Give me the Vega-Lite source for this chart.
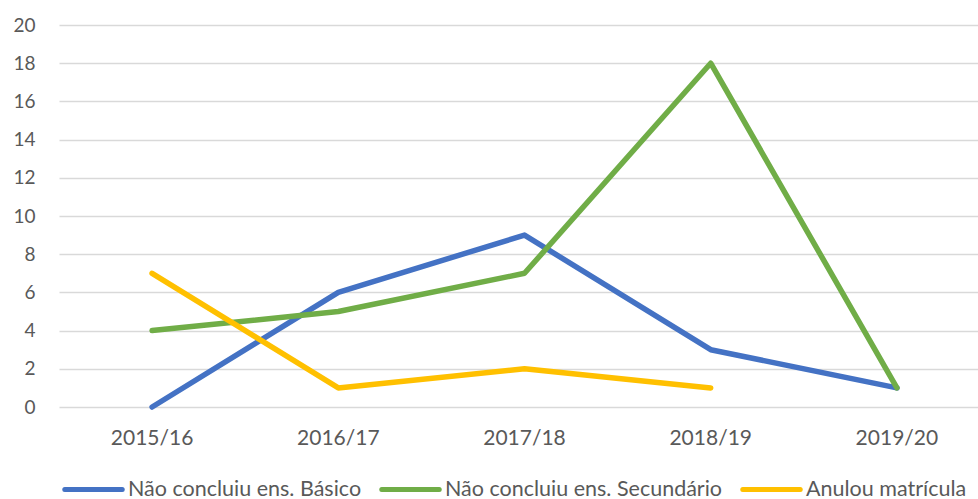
{
  "$schema": "https://vega.github.io/schema/vega-lite/v6.json",
  "autosize": "none",
  "width": 931,
  "height": 382,
  "padding": {"left": 59, "top": 25, "right": 0, "bottom": 92},
  "background": "white",
  "config": {
    "font": "Lato",
    "view": {"stroke": null}
  },
  "data": {
    "values": [
      {"ano": "2015/16", "serie": "Não concluiu ens. Básico", "valor": 0},
      {"ano": "2016/17", "serie": "Não concluiu ens. Básico", "valor": 6},
      {"ano": "2017/18", "serie": "Não concluiu ens. Básico", "valor": 9},
      {"ano": "2018/19", "serie": "Não concluiu ens. Básico", "valor": 3},
      {"ano": "2019/20", "serie": "Não concluiu ens. Básico", "valor": 1},
      {"ano": "2015/16", "serie": "Não concluiu ens. Secundário", "valor": 4},
      {"ano": "2016/17", "serie": "Não concluiu ens. Secundário", "valor": 5},
      {"ano": "2017/18", "serie": "Não concluiu ens. Secundário", "valor": 7},
      {"ano": "2018/19", "serie": "Não concluiu ens. Secundário", "valor": 18},
      {"ano": "2019/20", "serie": "Não concluiu ens. Secundário", "valor": 1},
      {"ano": "2015/16", "serie": "Anulou matrícula", "valor": 7},
      {"ano": "2016/17", "serie": "Anulou matrícula", "valor": 1},
      {"ano": "2017/18", "serie": "Anulou matrícula", "valor": 2},
      {"ano": "2018/19", "serie": "Anulou matrícula", "valor": 1}
    ]
  },
  "mark": {"type": "line", "strokeWidth": 5.5, "strokeCap": "round", "strokeJoin": "round"},
  "encoding": {
    "x": {
      "field": "ano", "type": "ordinal",
      "scale": {"type": "band", "paddingInner": 0, "paddingOuter": 0},
      "axis": {"title": null, "labelAngle": 0, "domain": false, "ticks": false, "grid": false,
               "labelFontSize": 21, "labelColor": "#595959", "labelPadding": 20}
    },
    "y": {
      "field": "valor", "type": "quantitative",
      "scale": {"domain": [0, 20], "nice": false},
      "axis": {"title": null, "values": [0,2,4,6,8,10,12,14,16,18,20], "domain": false, "ticks": false,
               "grid": true, "gridColor": "#D9D9D9", "gridWidth": 1.3,
               "labelFontSize": 19, "labelColor": "#595959", "labelPadding": 24}
    },
    "color": {
      "field": "serie", "type": "nominal",
      "scale": {
        "domain": ["Não concluiu ens. Básico", "Não concluiu ens. Secundário", "Anulou matrícula"],
        "range": ["#4472C4", "#70AD47", "#FFC000"]
      },
      "legend": {
        "title": null, "orient": "none", "direction": "horizontal",
        "legendX": 3, "legendY": 433,
        "symbolType": "stroke", "symbolSize": 3300, "symbolStrokeWidth": 5,
        "labelFontSize": 21.5, "labelColor": "#595959", "labelOffset": 3,
        "columnPadding": 9, "labelLimit": 400,
        "encode": {"symbols": {"update": {"strokeWidth": {"value": 5}, "strokeCap": {"value": "round"}}}}
      }
    }
  }
}
